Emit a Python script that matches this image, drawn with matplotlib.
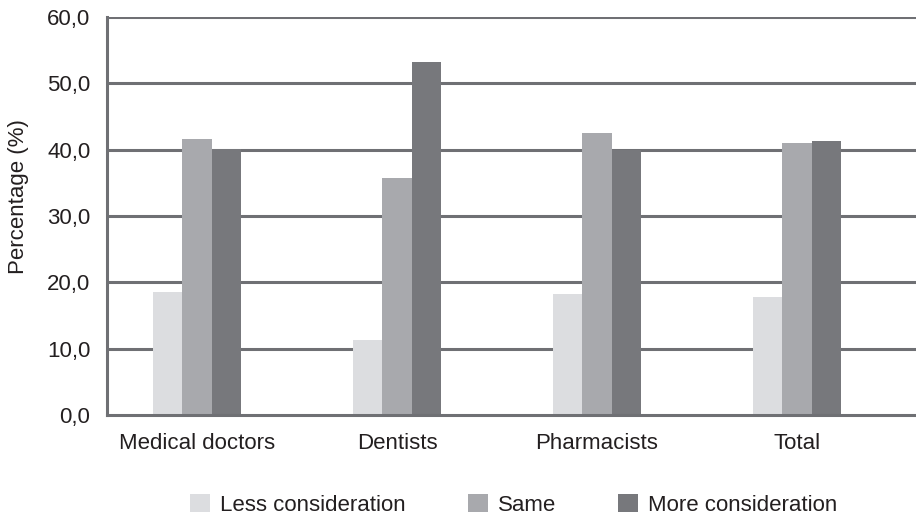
import numpy as np
import matplotlib.pyplot as plt

plt.rcParams['font.family'] = ['Liberation Sans', 'DejaVu Sans']

# Data
groups = ["Medical doctors", "Dentists", "Pharmacists", "Total"]
less_consideration = [18.5, 11.3, 18.2, 17.8]
same = [41.6, 35.8, 42.5, 41.0]
more_consideration = [40.1, 53.2, 39.9, 41.3]
yticks = [0, 10, 20, 30, 40, 50, 60]
ytick_labels = ["0,0", "10,0", "20,0", "30,0", "40,0", "50,0", "60,0"]

colors = ["#dcdde0", "#a8a9ad", "#77787c"]
grid_color = "#6f7074"
text_color = "#231f20"
fs = 16

fig = plt.figure(figsize=(9.16, 5.14), dpi=100)
ax = fig.add_axes([0.1168, 0.1926, 0.8832, 0.7743])

x = np.arange(len(groups))
w = 0.147

ax.bar(x - w, less_consideration, w, color=colors[0], label="Less consideration", zorder=3)
ax.bar(x, same, w, color=colors[1], label="Same", zorder=3)
ax.bar(x + w, more_consideration, w, color=colors[2], label="More consideration", zorder=3)

ax.set_xlim(-0.45, 3.595)
ax.set_ylim(0, 60)
ax.set_yticks(yticks)
ax.set_yticklabels(ytick_labels)
ax.set_xticks(x)
ax.set_xticklabels(groups)

for yv in yticks[1:]:
    ax.axhline(yv, color=grid_color, linewidth=2.2, zorder=1)

for side in ["top", "right"]:
    ax.spines[side].set_visible(False)
for side in ["left", "bottom"]:
    ax.spines[side].set_color(grid_color)
    ax.spines[side].set_linewidth(2.2)
    ax.spines[side].set_zorder(4)

ax.tick_params(axis="both", length=0, labelsize=fs, colors=text_color)
ax.tick_params(axis="y", pad=12)
ax.tick_params(axis="x", pad=13)
ax.set_ylabel("Percentage (%)", fontsize=fs, color=text_color)
ax.yaxis.set_label_coords(-0.097, 0.548)

leg = fig.legend(loc="center", bbox_to_anchor=(0.5606, 0.018), ncol=3, frameon=False,
                 fontsize=fs, handlelength=0.9, handleheight=0.9, handletextpad=0.45,
                 columnspacing=2.8, borderpad=0.2)
for t in leg.get_texts():
    t.set_color(text_color)

plt.savefig("out.png", dpi=100)
